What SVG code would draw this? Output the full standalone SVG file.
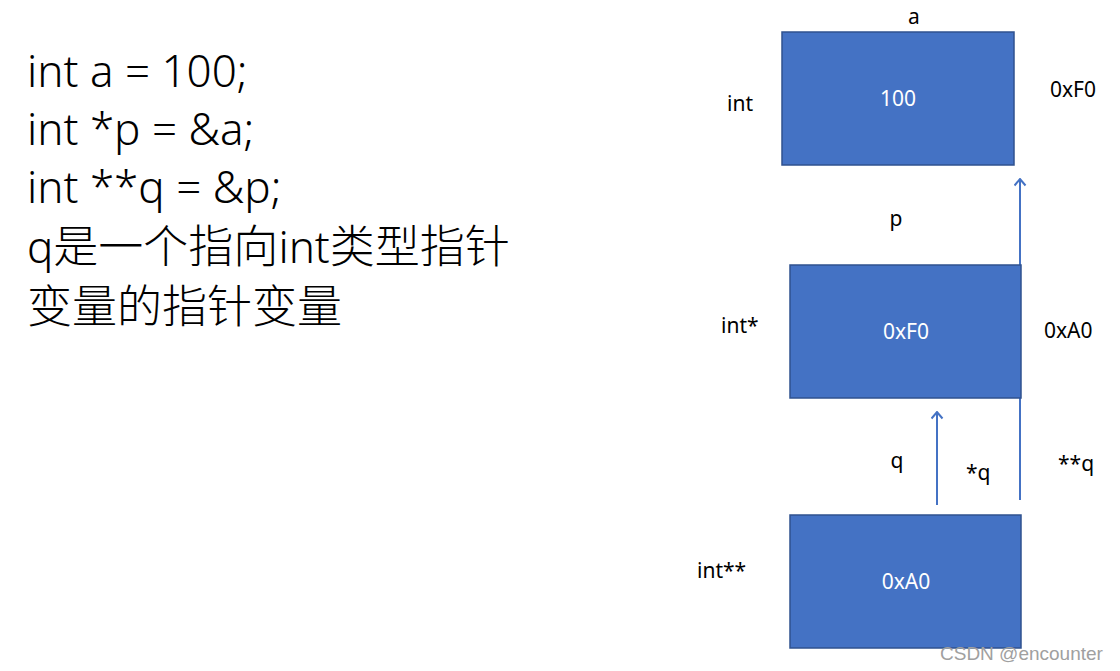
<svg xmlns="http://www.w3.org/2000/svg" width="1120" height="671" viewBox="0 0 1120 671">
<defs>
<style>
.code{font-family:"Noto Sans","Noto Sans CJK SC",sans-serif;font-size:44px;font-weight:300;fill:#000}
.cjk{font-family:"Noto Sans CJK SC",sans-serif;font-size:45px;font-weight:300;fill:#000}
.lbl{font-family:"Noto Sans","Noto Sans CJK SC",sans-serif;font-size:21px;fill:#000}
.in{font-family:"Noto Sans","Noto Sans CJK SC",sans-serif;font-size:21px;fill:#fff;text-anchor:middle}
.box{fill:#4472C4;stroke:#2F528F;stroke-width:1.5}
.conn{stroke:#4472C4;stroke-width:2;fill:none}
.wm{font-family:"Liberation Sans",sans-serif;font-size:19px;fill:#a0a0a0}
</style>
<marker id="ah" viewBox="0 0 9 13" refX="7.5" refY="6.5" markerWidth="9" markerHeight="13" markerUnits="userSpaceOnUse" orient="auto">
<path d="M1,1 L7.5,6.5 L1,12" fill="none" stroke="#4472C4" stroke-width="2"/>
</marker>
</defs>
<rect width="1120" height="671" fill="#fff"/>
<g id="code">
<text class="code" x="27" y="87">int a = 100;</text>
<text class="code" x="27" y="145">int *p = &amp;a;</text>
<text class="code" x="27" y="203">int **q = &amp;p;</text>
<text class="code" x="27" y="263">q<tspan class="cjk">是一个指向</tspan>int<tspan class="cjk">类型指针</tspan></text>
<text class="cjk" x="27" y="323">变量的指针变量</text>
</g>
<g id="connectors">
<line class="conn" x1="1020" y1="500" x2="1020" y2="179" marker-end="url(#ah)"/>
<line class="conn" x1="937" y1="505" x2="937" y2="412" marker-end="url(#ah)"/>
</g>
<g id="node-a">
<rect class="box" x="782" y="32" width="232" height="133"/>
<text class="in" x="898" y="106">100</text>
<text class="lbl" x="914" y="24" text-anchor="middle">a</text>
<text class="lbl" x="727" y="111">int</text>
<text class="lbl" x="1050" y="97">0xF0</text>
</g>
<g id="node-p">
<rect class="box" x="790" y="265" width="231" height="133"/>
<text class="in" x="906" y="339">0xF0</text>
<text class="lbl" x="896" y="226" text-anchor="middle">p</text>
<text class="lbl" x="721" y="333">int*</text>
<text class="lbl" x="1044" y="338">0xA0</text>
</g>
<g id="node-q">
<rect class="box" x="790" y="515" width="231" height="133"/>
<text class="in" x="906" y="589">0xA0</text>
<text class="lbl" x="897" y="468" text-anchor="middle">q</text>
<text class="lbl" x="966" y="480">*q</text>
<text class="lbl" x="1058" y="471">**q</text>
<text class="lbl" x="697" y="578">int**</text>
</g>
<text class="wm" x="940" y="660">CSDN @encounter</text>
</svg>
